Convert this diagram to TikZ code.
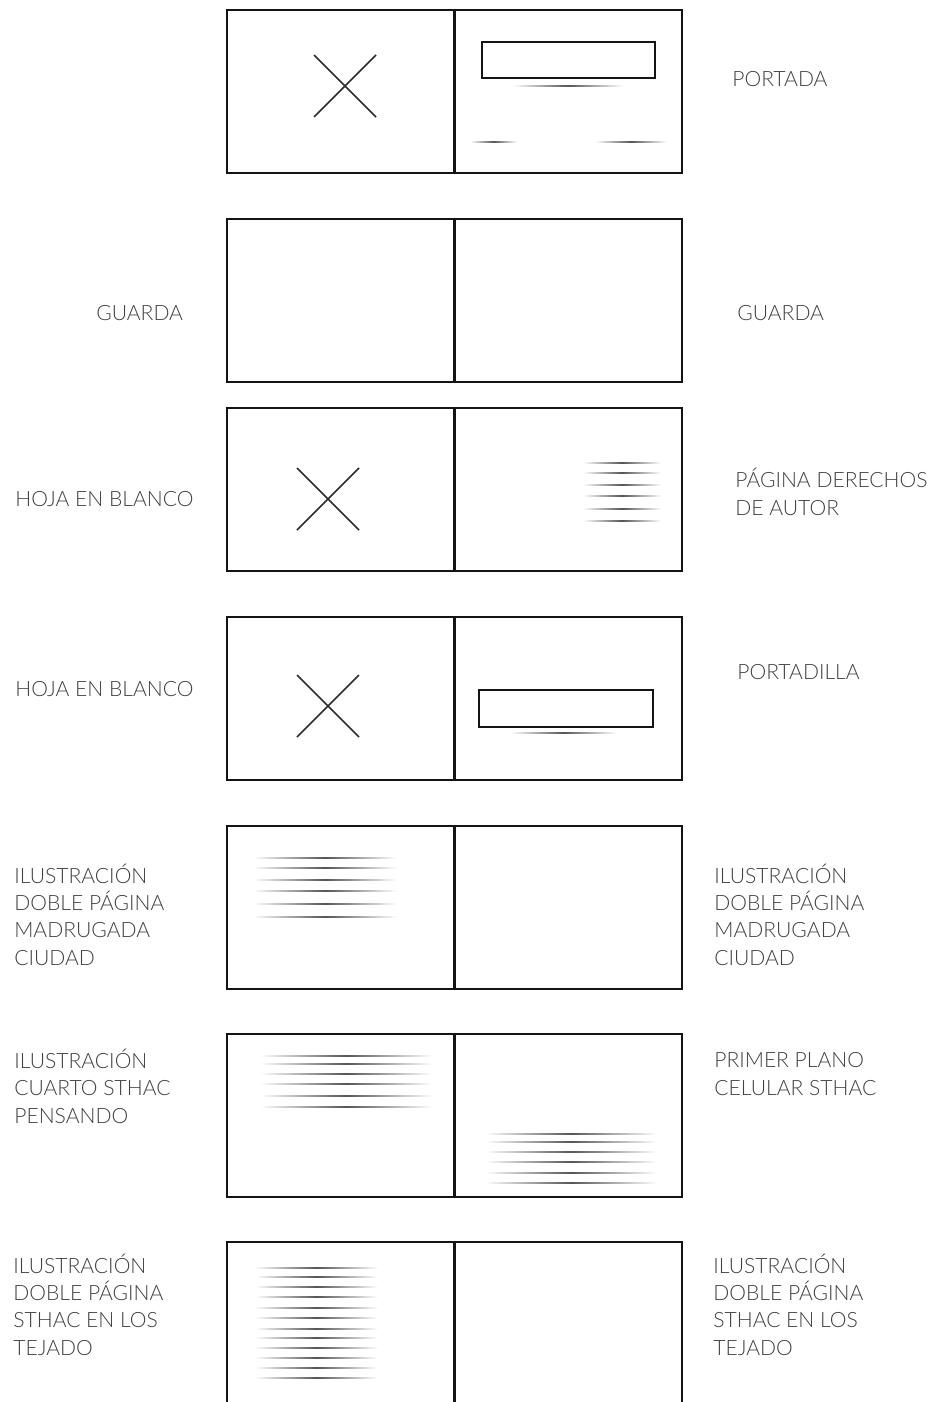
\documentclass[tikz,border=0pt]{standalone}
\usepackage{fontspec}
\setmainfont{Lato}[UprightFont=* Light]
\usepackage{xcolor}
\usepackage{tikz}
\definecolor{ink}{HTML}{141414}
\definecolor{inktwo}{HTML}{404040}
\definecolor{muted}{HTML}{555555}
\tikzset{
  % one double page spread, drawn at pixel scale
  spread/.style={draw=ink, line width=1.6pt},
  cross/.style={draw=ink!90, line width=0.9pt},
  titlebox/.style={draw=ink, line width=1.4pt},
  txtline/.style={left color=white, right color=white, middle color=muted},
  % base anchor of a multi-line label sits on its last line
  lbl/.style={anchor=base west, align=left, inner sep=0pt, text=inktwo,
              font=\fontsize{12}{15.5}\selectfont},
}

\begin{document}
\begin{tikzpicture}[x=0.2mm,y=-0.2mm]
  \useasboundingbox (0,0) rectangle (938,1402);
  \clip (0,0) rectangle (938,1402);

  % spreads
  \foreach \t in {10,219,408,617,826,1034,1242}{
    \draw[spread] (227,\t) rectangle (682,\t+163);
    \draw[spread] (454.5,\t) -- (454.5,\t+163);
  }

  % blank pages
  \foreach \cx/\cy in {345/86, 328/499, 328/706}{
    \draw[cross] (\cx-31,\cy-31) -- (\cx+31,\cy+31);
    \draw[cross] (\cx-31,\cy+31) -- (\cx+31,\cy-31);
  }

  % title boxes
  \draw[titlebox] (482,42) rectangle (655,78);
  \draw[titlebox] (479,690) rectangle (653,727);
  \shade[txtline] (513,85.2) rectangle (623,86.8);
  \shade[txtline] (510,732.2) rectangle (617,733.8);
  \shade[txtline] (470,141.2) rectangle (517,142.8);
  \shade[txtline] (595,141.2) rectangle (667,142.8);

  % text blocks
  \foreach \y in {463,473,485,496,509,521}
    \shade[txtline] (583,\y-0.8) rectangle (661,\y+0.8);
  \foreach \y in {858,868,880,891,904,917}
    \shade[txtline] (253,\y-0.8) rectangle (397,\y+0.8);
  \foreach \y in {1056,1064,1074,1084,1096,1107}
    \shade[txtline] (260,\y-0.8) rectangle (432,\y+0.8);
  \foreach \y in {1134,1142,1152,1162,1173,1183}
    \shade[txtline] (485,\y-0.8) rectangle (657,\y+0.8);
  \foreach \y in {1268,1277,1287,1297,1308,1318,1329,1338,1348,1358,1368,1378}
    \shade[txtline] (255,\y-0.8) rectangle (378,\y+0.8);

  % labels
  \node[lbl] (portada) at (732,87) {PORTADA};
  \node[lbl] (guardaL) at (96,320) {GUARDA};
  \node[lbl] (guardaR) at (737,320) {GUARDA};
  \node[lbl] (blancoA) at (15,506) {HOJA EN BLANCO};
  \node[lbl] (derechos) at (735,515) {PÁGINA DERECHOS\\DE AUTOR};
  \node[lbl] (blancoB) at (15,696) {HOJA EN BLANCO};
  \node[lbl] (portadilla) at (737,679) {PORTADILLA};
  \node[lbl] (ciudadL) at (14,965) {ILUSTRACIÓN\\DOBLE PÁGINA\\MADRUGADA\\CIUDAD};
  \node[lbl] (ciudadR) at (714,965) {ILUSTRACIÓN\\DOBLE PÁGINA\\MADRUGADA\\CIUDAD};
  \node[lbl] (cuarto) at (14,1123) {ILUSTRACIÓN\\CUARTO STHAC\\PENSANDO};
  \node[lbl] (celular) at (714,1095) {PRIMER PLANO\\CELULAR STHAC};
  \node[lbl] (tejadoL) at (13,1355) {ILUSTRACIÓN\\DOBLE PÁGINA\\STHAC EN LOS\\TEJADO};
  \node[lbl] (tejadoR) at (713,1355) {ILUSTRACIÓN\\DOBLE PÁGINA\\STHAC EN LOS\\TEJADO};
\end{tikzpicture}
\end{document}
